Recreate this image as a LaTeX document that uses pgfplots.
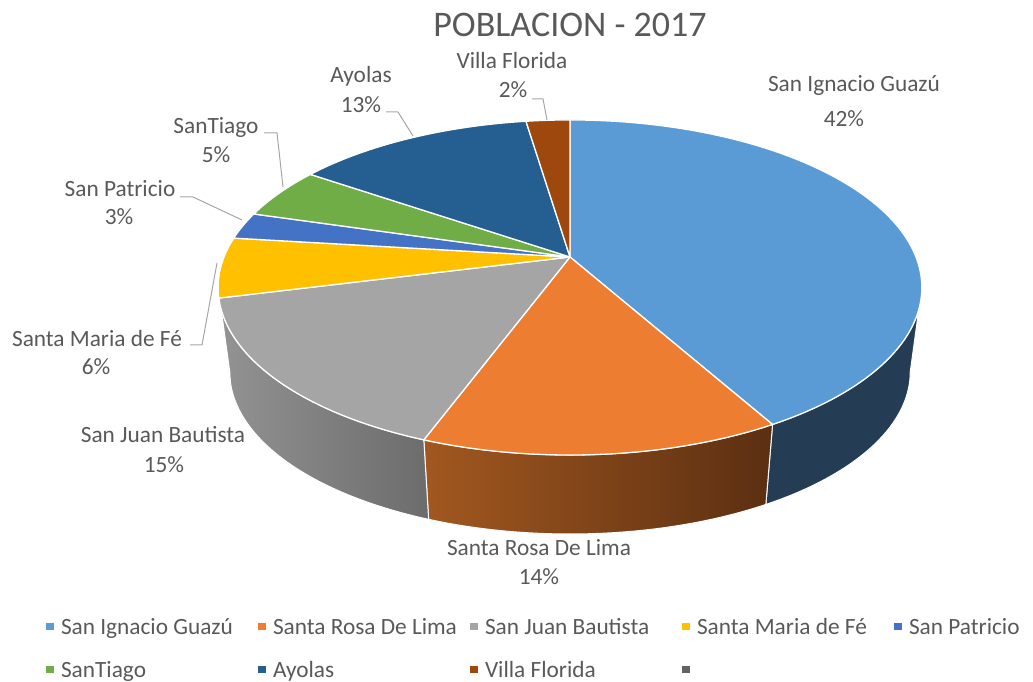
\documentclass[border=0pt]{standalone}
\usepackage{fontspec}
\setmainfont{Carlito}
\usepackage{pgfplots}
\pgfplotsset{compat=1.18}
\definecolor{siC}{HTML}{5B9BD5}
\definecolor{srC}{HTML}{ED7D31}
\definecolor{sjC}{HTML}{A5A5A5}
\definecolor{smC}{HTML}{FFC000}
\definecolor{spC}{HTML}{4472C4}
\definecolor{stC}{HTML}{70AD47}
\definecolor{ayC}{HTML}{255E91}
\definecolor{vfC}{HTML}{9E480E}
\definecolor{emC}{HTML}{636363}
\definecolor{siS}{HTML}{253D54}
\definecolor{srL}{HTML}{A2581F}
\definecolor{srR}{HTML}{5B2F12}
\definecolor{sjL}{HTML}{939393}
\definecolor{sjR}{HTML}{6C6C6C}
\definecolor{smS}{HTML}{B88A00}
\definecolor{txt}{HTML}{595959}
\definecolor{lead}{HTML}{A6A6A6}
% perspective point on the top (t) or bottom (b) rim, angle clockwise from the back
\newcommand\ptxy[2]{%
  \pgfmathsetmacro\pden{1+0.182*cos(#1)}%
  \pgfmathsetmacro\pdx{346*sin(#1)/\pden}%
  \pgfmathsetmacro\pdy{162*cos(#1)/\pden}%
  \if#2t%
    \pgfmathsetmacro\px{570+\pdx}\pgfmathsetmacro\py{425+\pdy}%
  \else
    \pgfmathsetmacro\px{570+0.967*\pdx}\pgfmathsetmacro\py{339.5+0.967*\pdy}%
  \fi}
\newcommand\arcpts[4]{%
  \gdef#1{}%
  \pgfmathtruncatemacro\nst{max(2,ceil(abs(#3-#2)/1.5))}%
  \foreach \k in {0,...,\nst}{%
    \pgfmathsetmacro\ph{#2+(#3-#2)*\k/\nst}%
    \ptxy{\ph}{#4}%
    \xdef#1{#1 -- (axis cs:\px,\py)}%
  }}
\newcommand\lab[3]{\node[font=\fontsize{23.3}{28}\selectfont, text=txt, anchor=base, inner sep=0pt] at (axis cs:#1,#2) {#3};}
\begin{document}
\begin{tikzpicture}
\useasboundingbox (0,0) rectangle (1033pt,682pt);
\begin{axis}[at={(0,0)}, anchor=south west, scale only axis, width=1033pt, height=682pt,
  xmin=0, xmax=1033, ymin=0, ymax=682, hide axis, clip=false,
  legend image code/.code={\fill[#1] (0pt,4.5pt) rectangle (7.5pt,12pt);},
  legend columns=5,
  legend style={draw=none, fill=none, inner sep=0pt, outer sep=0pt,
    at={(axis cs:46,66.9)}, anchor=north west,
    font=\fontsize{23.3}{28.4}\selectfont, text=txt,
    cells={anchor=base west}, nodes={inner sep=0pt, anchor=base west},
    row sep={43pt,between origins},
    /tikz/every odd column/.append style={column sep=7.5pt},
    /tikz/every even column/.append style={column sep=7pt}}]
\pgfplotsextra{%
  % sides
  \gdef\cum{0}%
  \foreach \v/\sl/\sr in {41.8/siS/siS, 13.9/srL/srR, 15.4/sjL/sjR, 5.8/smS/smS, 2.6/spC/spC, 5.0/stC/stC, 13.1/ayC/ayC, 2.4/vfC/vfC}{%
    \pgfmathsetmacro\pa{\cum}\pgfmathsetmacro\pb{\cum+3.6*\v}\xdef\cum{\pb}%
    \pgfmathsetmacro\phs{max(\pa,100.5)}\pgfmathsetmacro\phe{min(\pb,259.5)}%
    \pgfmathtruncatemacro\ok{\phe>\phs}%
    \ifnum\ok>0
      \ptxy{\phs}{t}\xdef\sx{\px}\xdef\sy{\py}%
      \arcpts\A{\phs}{\phe}{t}%
      \arcpts\B{\phe}{\phs}{b}%
      \edef\cmd{\noexpand\shadedraw[left color=\sl, right color=\sr, draw=white, line width=1pt, line join=round] (axis cs:\sx,\sy) \A \B -- cycle;}\cmd
    \fi
  }%
  % top face
  \gdef\cum{0}%
  \foreach \v/\c in {41.8/siC, 13.9/srC, 15.4/sjC, 5.8/smC, 2.6/spC, 5.0/stC, 13.1/ayC, 2.4/vfC}{%
    \pgfmathsetmacro\pa{\cum}\pgfmathsetmacro\pb{\cum+3.6*\v}\xdef\cum{\pb}%
    \arcpts\A{\pa}{\pb}{t}%
    \edef\cmd{\noexpand\filldraw[fill=\c, draw=white, line width=1.3pt, line join=round] (axis cs:570,425) \A -- cycle;}\cmd
  }%
}
% leader lines
\draw[lead, line width=1pt] (axis cs:532,583) -- (axis cs:543,583) -- (axis cs:547,562);
\draw[lead, line width=1pt] (axis cs:386,570) -- (axis cs:398,570) -- (axis cs:413,546);
\draw[lead, line width=1pt] (axis cs:264,549) -- (axis cs:277,549) -- (axis cs:283,495);
\draw[lead, line width=1pt] (axis cs:180,485) -- (axis cs:193,485) -- (axis cs:242,462);
\draw[lead, line width=1pt] (axis cs:190,337) -- (axis cs:202,337) -- (axis cs:217,419);
% labels
\node[font=\fontsize{36}{43}\selectfont, text=txt, anchor=base, inner sep=0pt] at (axis cs:570,645) {POBLACION - 2017};
\lab{854}{590}{San Ignacio Guazú}\lab{844}{555}{42\%}
\lab{512}{613}{Villa Florida}\lab{513}{584}{2\%}
\lab{361}{599}{Ayolas}\lab{361}{569}{13\%}
\lab{216}{548}{SanTiago}\lab{216}{519}{5\%}
\lab{120}{485}{San Patricio}\lab{119}{457}{3\%}
\lab{97}{335}{Santa Maria de Fé}\lab{96}{307}{6\%}
\lab{163}{239}{San Juan Bautista}\lab{164}{209}{15\%}
\lab{539}{126}{Santa Rosa De Lima}\lab{539}{97}{14\%}
% legend
\addlegendimage{fill=siC, draw=none}\addlegendentry{\makebox[190pt][l]{\strut San Ignacio Guazú}}
\addlegendimage{fill=srC, draw=none}\addlegendentry{\makebox[190pt][l]{\strut Santa Rosa De Lima}}
\addlegendimage{fill=sjC, draw=none}\addlegendentry{\makebox[190pt][l]{\strut San Juan Bautista}}
\addlegendimage{fill=smC, draw=none}\addlegendentry{\makebox[190pt][l]{\strut Santa Maria de Fé}}
\addlegendimage{fill=spC, draw=none}\addlegendentry{\makebox[115pt][l]{\strut San Patricio}}
\addlegendimage{fill=stC, draw=none}\addlegendentry{\makebox[190pt][l]{\strut SanTiago}}
\addlegendimage{fill=ayC, draw=none}\addlegendentry{\makebox[190pt][l]{\strut Ayolas}}
\addlegendimage{fill=vfC, draw=none}\addlegendentry{\makebox[190pt][l]{\strut Villa Florida}}
\addlegendimage{fill=emC, draw=none}\addlegendentry{\makebox[190pt][l]{\strut}}
\end{axis}
\end{tikzpicture}
\end{document}
